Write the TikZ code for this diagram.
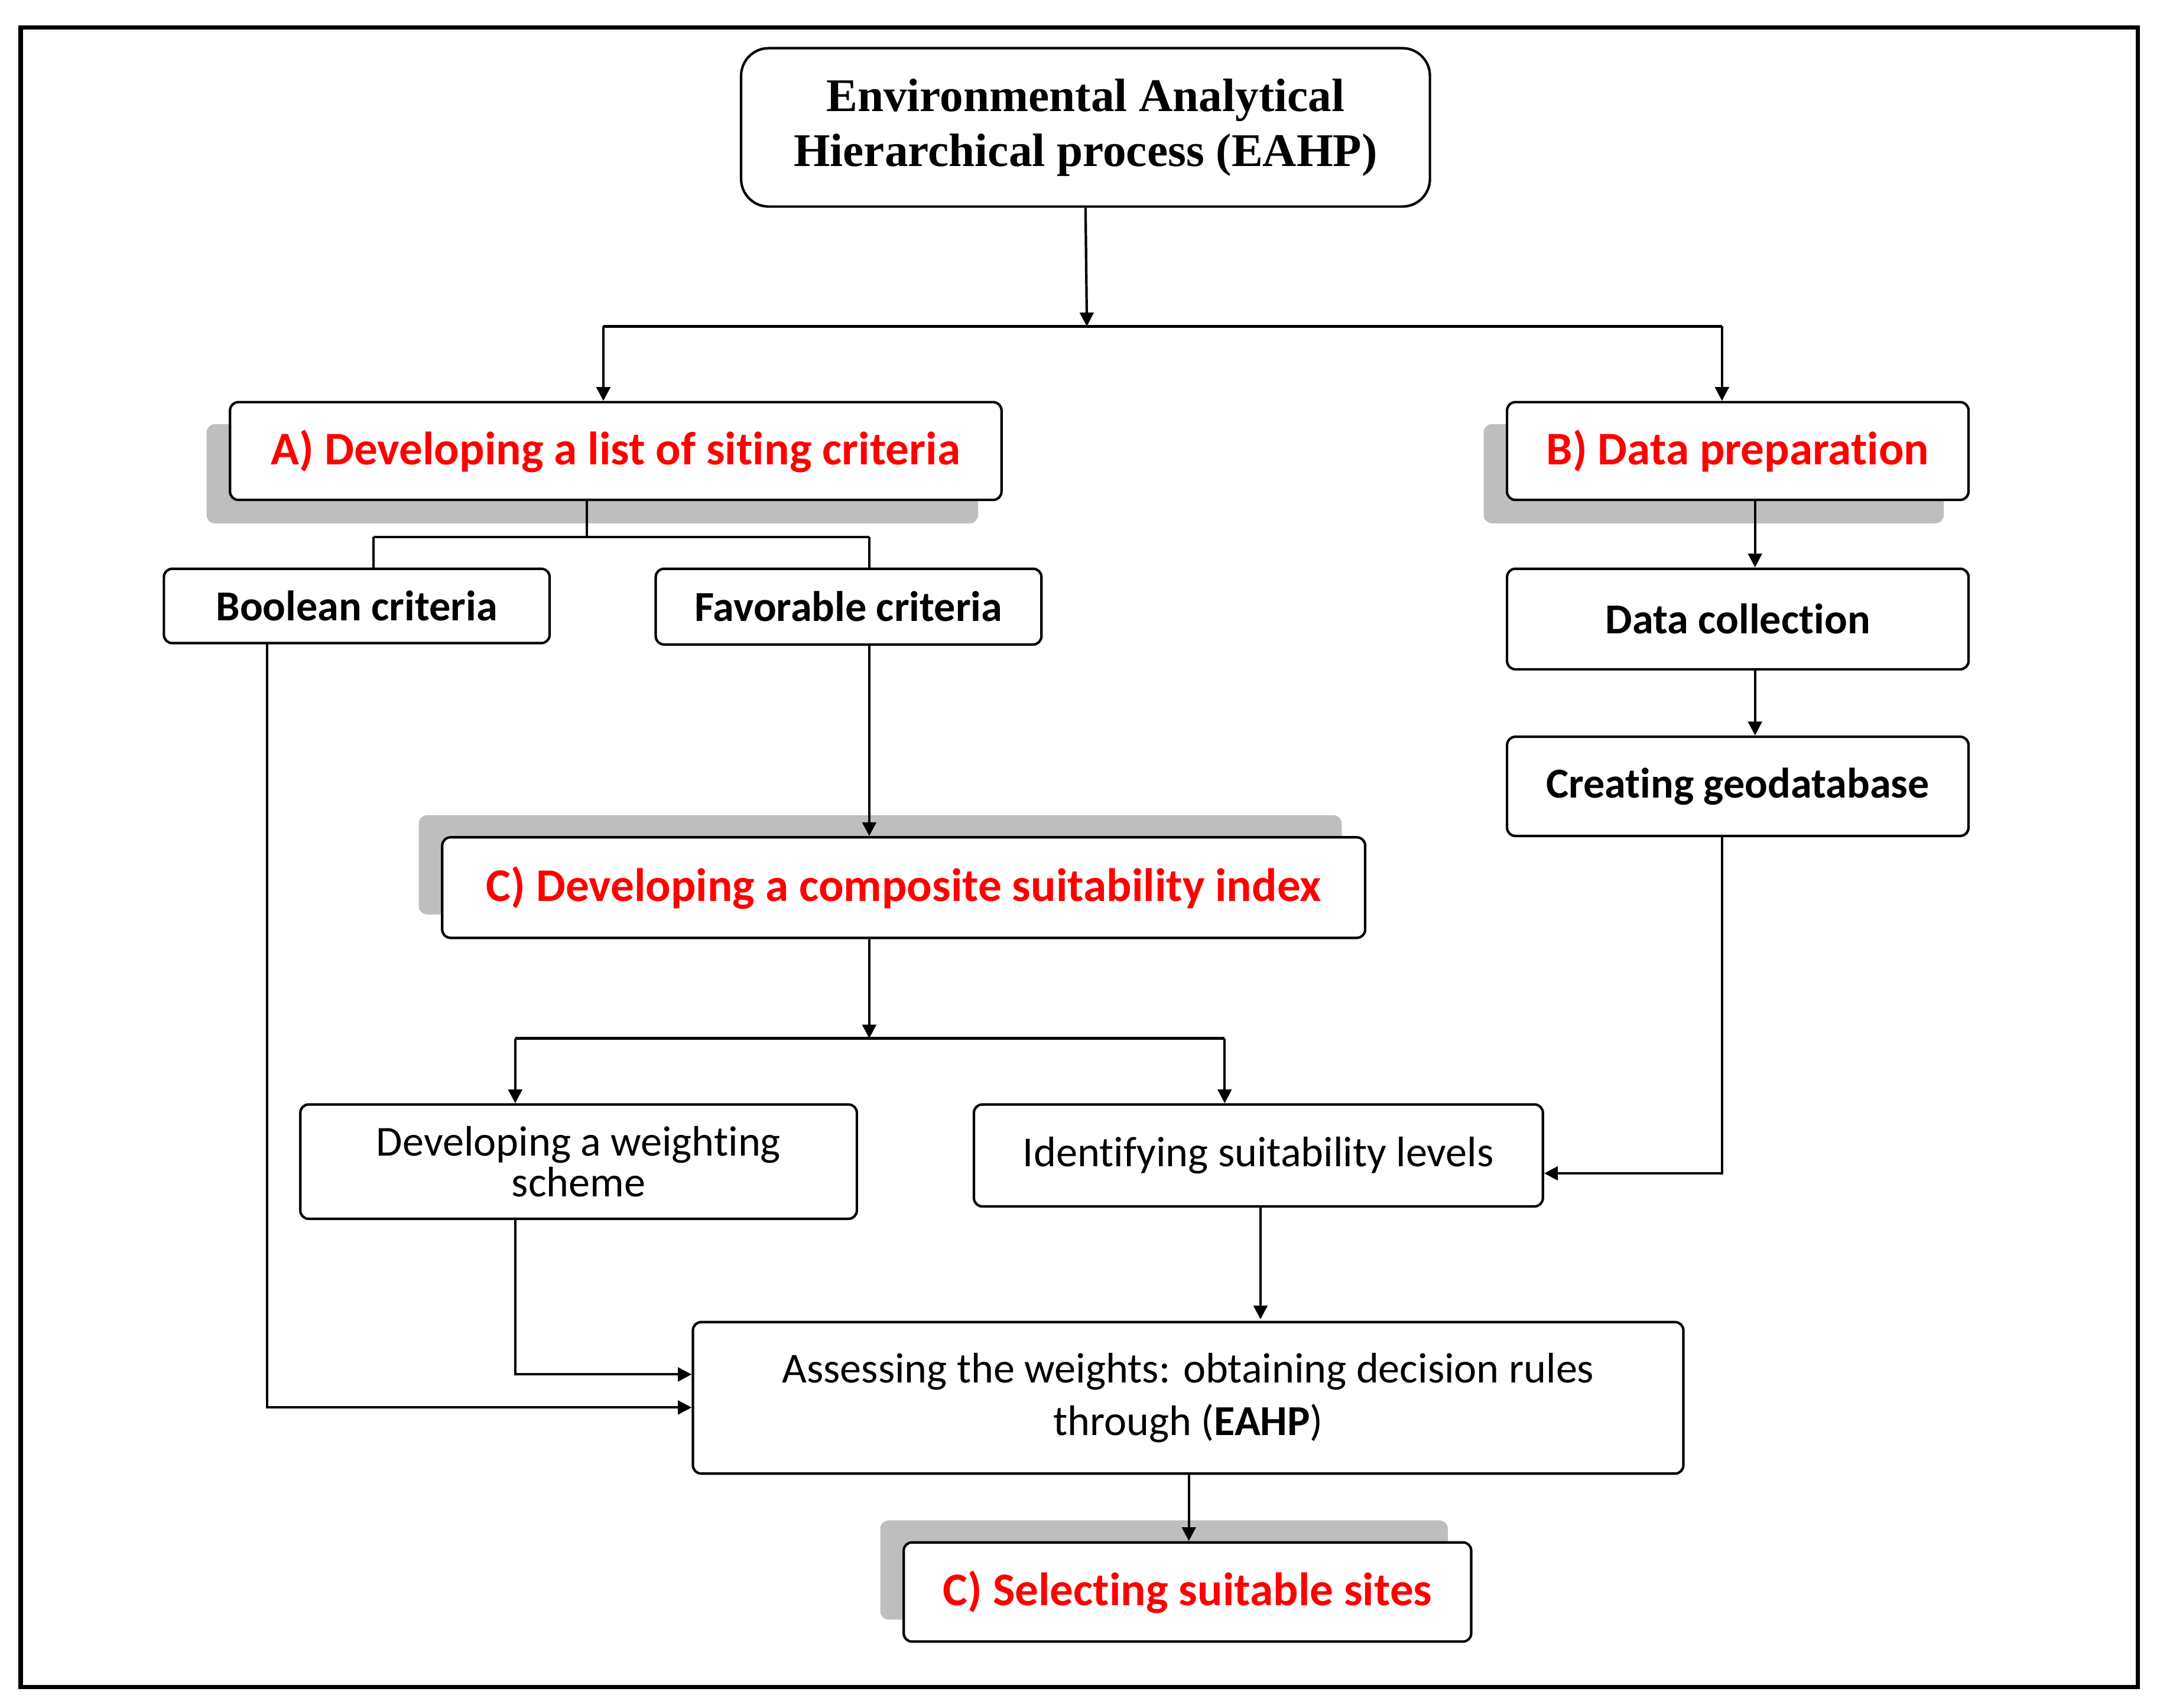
\documentclass[tikz,border=0pt]{standalone}
\usepackage{fontspec}
\setmainfont{Carlito}[Ligatures=NoCommon]
\newfontfamily\tserif{Liberation Serif}
\usetikzlibrary{arrows.meta}
\definecolor{shd}{RGB}{190,190,190}
\begin{document}
\begin{tikzpicture}[x=0.5pt,y=-0.5pt,
 box/.style={draw=black,line width=0.9pt,rounded corners=3pt,align=center,inner sep=0pt,fill=white},
 red/.style={text=red,font=\fontsize{17}{19}\selectfont\bfseries},
 blk/.style={font=\fontsize{15.5}{17}\selectfont\bfseries},
 reg/.style={font=\fontsize{15.5}{15}\selectfont},
 shadow/.style={fill=shd,rounded corners=3pt},
 ln/.style={line width=0.9pt},
 ar/.style={line width=0.9pt,-{Triangle[length=5pt,width=5pt]}}]
\useasboundingbox (0,0) rectangle (1568,1240);
\draw[line width=1.6pt] (15,20) rectangle (1552,1225);
% shadows
\fill[shadow] (150,308) rectangle (710,380);
\fill[shadow] (1077,308) rectangle (1411,380);
\fill[shadow] (304,592) rectangle (974,664);
\fill[shadow] (639,1104) rectangle (1051,1176);
% nodes
\node[box,rounded corners=10pt,minimum width=250pt,minimum height=57.5pt,font=\tserif\fontsize{17}{20}\selectfont\bfseries] (top) at (788,92.5) {Environmental Analytical\\Hierarchical process (EAHP)};
\node[box,red,minimum width=280pt,minimum height=35.5pt] (A) at (447,327.5) {A) Developing a list of siting criteria};
\node[box,red,minimum width=167.5pt,minimum height=35.5pt] (B) at (1261.5,327.5) {B) Data preparation};
\node[box,blk,minimum width=140pt,minimum height=27pt] (bool) at (259,440) {Boolean criteria};
\node[box,blk,minimum width=140pt,minimum height=27.5pt] (fav) at (616,440.5) {Favorable criteria};
\node[box,red,minimum width=335pt,minimum height=36.5pt] (C) at (656,644.5) {C) Developing a composite suitability index};
\node[box,reg,minimum width=202pt,minimum height=41.5pt] (wt) at (420,843.5) {Developing a weighting\\scheme};
\node[box,reg,minimum width=206.5pt,minimum height=37pt] (id) at (913.5,839) {Identifying suitability levels};
\node[box,blk,minimum width=167.5pt,minimum height=36.5pt] (dc) at (1261.5,449.5) {Data collection};
\node[box,blk,minimum width=167.5pt,minimum height=36pt] (geo) at (1261.5,571) {Creating geodatabase};
\node[box,reg,minimum width=359.5pt,minimum height=55pt,font=\fontsize{15.5}{19}\selectfont] (as) at (862.5,1015) {Assessing the weights: obtaining decision rules\\through (\textbf{EAHP})};
\node[box,red,minimum width=206pt,minimum height=36pt] (sel) at (862,1156) {C) Selecting suitable sites};
% junctions
\coordinate (j1) at (789,237);
\coordinate (jA) at (438,237);
\coordinate (jB) at (1250,237);
\coordinate (j2) at (426,390);
\coordinate (jL) at (271,390);
\coordinate (jR) at (631,390);
\coordinate (j3) at (631,754);
\coordinate (jW) at (374,754);
\coordinate (jI) at (889,754);
% connectors
\draw[ar] (top.south) -- (j1);
\draw[ln] (jA) -- (jB);
\draw[ar] (jA) -- (jA |- A.north);
\draw[ar] (jB) -- (jB |- B.north);
\draw[ln] (j2 |- A.south) -- (j2);
\draw[ln] (jL) -- (jR);
\draw[ln] (jL) -- (jL |- bool.north);
\draw[ln] (jR) -- (jR |- fav.north);
\draw[ar] (jR |- fav.south) -- (jR |- C.north);
\draw[ar] (j3 |- C.south) -- (j3);
\draw[ln] (jW) -- (jI);
\draw[ar] (jW) -- (jW |- wt.north);
\draw[ar] (jI) -- (jI |- id.north);
\draw[ar] (1274,363) -- (1274,412);
\draw[ar] (1274,486) -- (1274,534);
\draw[ar] (1250,607) -- (1250,852) -- (id.east |- 0,852);
\draw[ar] (915,876) -- (915,958);
\draw[ar] (374,885) -- (374,998) -- (as.west |- 0,998);
\draw[ar] (194,467) -- (194,1022) -- (as.west |- 0,1022);
\draw[ar] (863,1070) -- (863,1119);
\end{tikzpicture}
\end{document}
